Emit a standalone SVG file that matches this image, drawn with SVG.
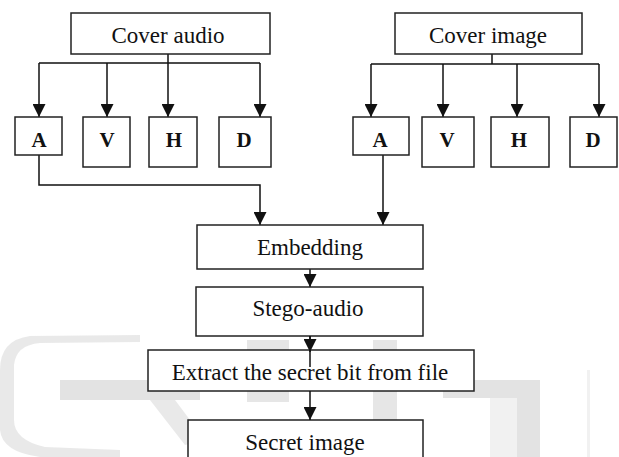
<svg xmlns="http://www.w3.org/2000/svg" width="619" height="457" viewBox="0 0 619 457">
<style>
.box{fill:#fff;stroke:#222;stroke-width:1.5}
.t{font-family:"Liberation Serif","Times New Roman",serif;font-size:23px;fill:#111;text-anchor:middle}
.b{font-weight:bold;font-size:21px}
.c{fill:none;stroke:#111;stroke-width:1.5}
.wm{fill:#e3e3e3}
</style>
<defs>
<marker id="ah" markerUnits="userSpaceOnUse" markerWidth="14" markerHeight="13" refX="13" refY="6.5" orient="auto">
<path d="M0,0 L13,6.5 L0,13 Z" fill="#111"/>
</marker>
</defs>
<rect width="619" height="457" fill="#fff"/>
<g id="watermark">
<path class="wm" d="M140,335 L30,336 Q0,340 0,370 L0,430 Q2,452 40,457 L120,457 L120,450 L45,447 Q14,440 14,420 L14,365 Q16,345 40,343 L140,342 Z" opacity="0.8"/>
<rect class="wm" x="60" y="380" width="140" height="20"/>
<path class="wm" d="M150,400 L175,400 L205,440 L185,445 Z" opacity="0.8"/>
<rect class="wm" x="247" y="340" width="42" height="62" opacity="0.9"/>
<rect class="wm" x="373" y="340" width="24" height="117" opacity="0.9"/>
<rect class="wm" x="443" y="380" width="97" height="18"/>
<rect class="wm" x="517" y="380" width="23" height="77"/>
<rect class="wm" x="490" y="398" width="27" height="59" opacity="0.5"/>
<rect class="wm" x="587" y="370" width="3" height="87" opacity="0.5"/>
</g>
<g id="connectors">
<path class="c" d="M168,54 V63 M39,63 H260"/>
<path class="c" d="M39,63 V117" marker-end="url(#ah)"/>
<path class="c" d="M107,63 V117" marker-end="url(#ah)"/>
<path class="c" d="M168,63 V117" marker-end="url(#ah)"/>
<path class="c" d="M260,63 V117" marker-end="url(#ah)"/>
<path class="c" d="M492,54 V64 M371,64 H599"/>
<path class="c" d="M371,64 V117" marker-end="url(#ah)"/>
<path class="c" d="M443,64 V117" marker-end="url(#ah)"/>
<path class="c" d="M517,64 V117" marker-end="url(#ah)"/>
<path class="c" d="M599,64 V117" marker-end="url(#ah)"/>
<path class="c" d="M39,155 V185 H260 V225" marker-end="url(#ah)"/>
<path class="c" d="M383,155 V225" marker-end="url(#ah)"/>
<path class="c" d="M310,269 V287" marker-end="url(#ah)"/>
</g>
<g id="cover-audio"><rect class="box" x="71" y="13" width="199" height="41"/><text class="t" x="168" y="43">Cover audio</text></g>
<g id="cover-image"><rect class="box" x="395" y="13" width="187" height="41"/><text class="t" x="488" y="43">Cover image</text></g>
<g id="a1"><rect class="box" x="15" y="117" width="47" height="38"/><text class="t b" x="39" y="147">A</text></g>
<g id="v1"><rect class="box" x="83" y="117" width="47" height="50"/><text class="t b" x="107" y="147">V</text></g>
<g id="h1"><rect class="box" x="149" y="117" width="48" height="50"/><text class="t b" x="174" y="147">H</text></g>
<g id="d1"><rect class="box" x="219" y="117" width="52" height="50"/><text class="t b" x="244" y="147">D</text></g>
<g id="a2"><rect class="box" x="353" y="117" width="56" height="38"/><text class="t b" x="380" y="147">A</text></g>
<g id="v2"><rect class="box" x="422" y="117" width="52" height="50"/><text class="t b" x="447" y="147">V</text></g>
<g id="h2"><rect class="box" x="491" y="117" width="58" height="50"/><text class="t b" x="519" y="147">H</text></g>
<g id="d2"><rect class="box" x="570" y="117" width="47" height="50"/><text class="t b" x="593" y="147">D</text></g>
<g id="embedding"><rect class="box" x="197" y="225" width="226" height="44"/><text class="t" x="310" y="255">Embedding</text></g>
<g id="stego"><rect class="box" x="196" y="287" width="227" height="49"/><text class="t" x="308" y="316">Stego-audio</text></g>
<g id="extract"><rect class="box" x="148" y="350" width="326" height="41"/><text class="t" x="310" y="380">Extract the secret bit from file</text></g>
<g id="secret"><rect class="box" x="188" y="420" width="235" height="45"/><text class="t" x="305" y="450">Secret image</text></g>
<g id="connectors2">
<path class="c" d="M310,336 V367"/>
<path class="c" d="M310,336 V352" marker-end="url(#ah)"/>
<path class="c" d="M310,391 V420" marker-end="url(#ah)"/>
</g>
</svg>
